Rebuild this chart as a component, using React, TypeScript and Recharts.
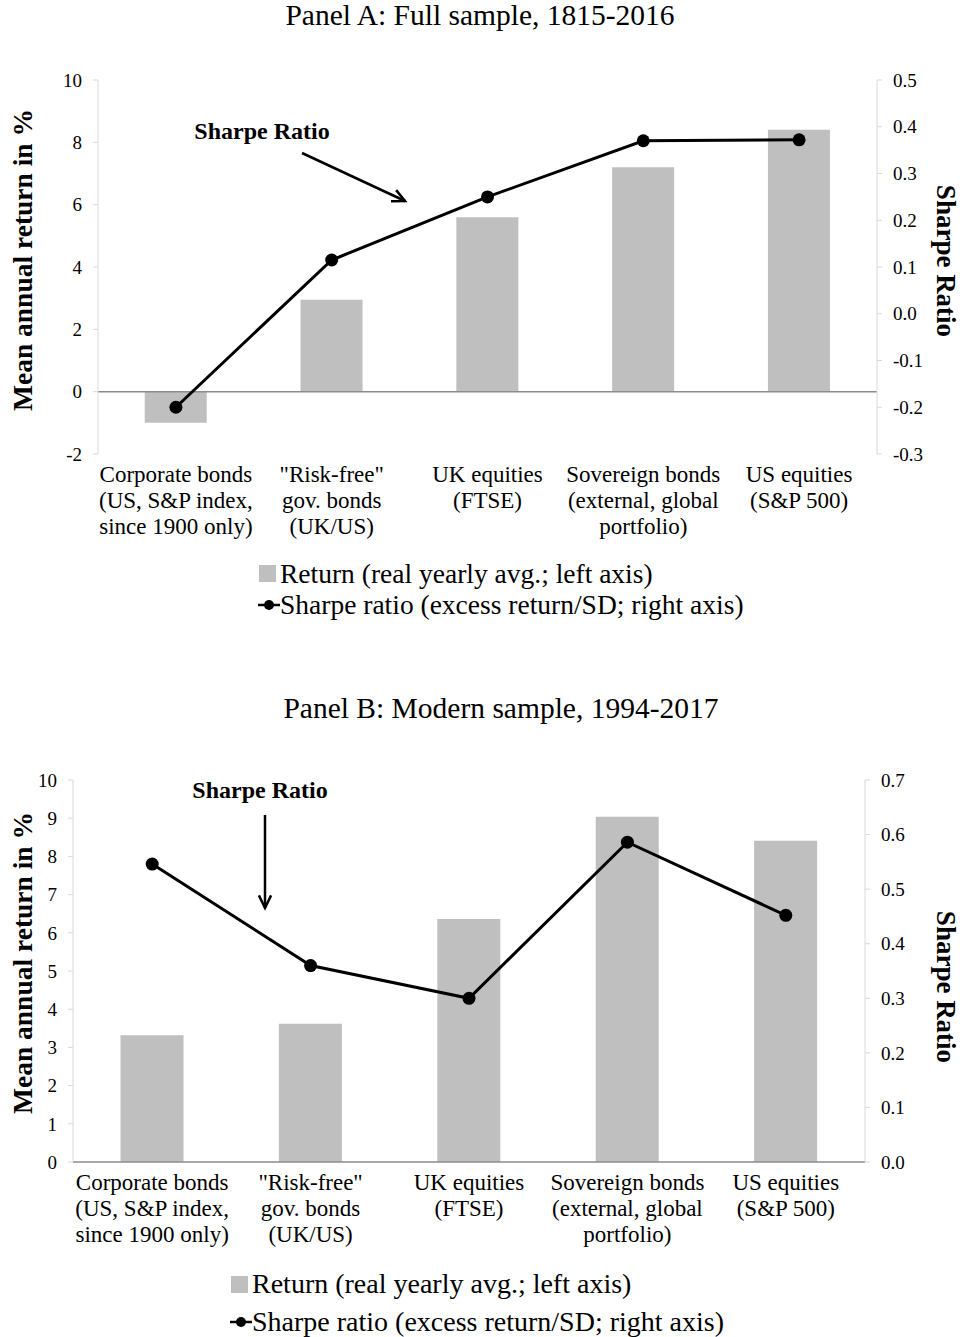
import {
    ComposedChart,
    XAxis,
    YAxis,
    Bar,
    Line,
    Legend,
    ReferenceLine,
    Customized
} from "recharts";

const FONT = '"Liberation Serif", "Times New Roman", Times, serif';

// categories and their wrapped tick labels
const categories = ["Corporate bonds", "\"Risk-free\"", "UK equities", "Sovereign bonds", "US equities"];
const tickLines = [
    ["Corporate bonds", "(US, S&P index,", "since 1900 only)"],
    ["\"Risk-free\"", "gov. bonds", "(UK/US)"],
    ["UK equities", "(FTSE)"],
    ["Sovereign bonds", "(external, global", "portfolio)"],
    ["US equities", "(S&P 500)"]
];

// Panel A: 1815-2016
const returnA = [-1.0, 2.95, 5.6, 7.2, 8.4];
const sharpeA = [-0.2, 0.115, 0.25, 0.37, 0.372];
const leftTicksA = [-2, 0, 2, 4, 6, 8, 10];
const rightTicksA = [-0.3, -0.2, -0.1, 0, 0.1, 0.2, 0.3, 0.4, 0.5];

// Panel B: 1994-2017
const returnB = [3.32, 3.62, 6.36, 9.04, 8.41];
const sharpeB = [0.546, 0.36, 0.3, 0.586, 0.452];
const leftTicksB = [0, 1, 2, 3, 4, 5, 6, 7, 8, 9, 10];
const rightTicksB = [0, 0.1, 0.2, 0.3, 0.4, 0.5, 0.6, 0.7];

const legendLabels = ["Return (real yearly avg.; left axis)", "Sharpe ratio (excess return/SD; right axis)"];

const buildRows = (ret: number[], sr: number[]) =>
    categories.map((name, i) => ({ name, ret: ret[i], sharpe: sr[i] }));

function CategoryTick(props: any) {
    const { x, y, payload } = props;
    const lines = tickLines[categories.indexOf(payload.value)] || [payload.value];
    return (
        <text x={x} y={y} textAnchor="middle" fontFamily={FONT} fontSize={23} fill="#000">
            {lines.map((l, i) => (
                <tspan key={i} x={x} dy={i === 0 ? 28 : 26}>{l}</tspan>
            ))}
        </text>
    );
}

function arrowHead(x1: number, y1: number, x2: number, y2: number, len = 14) {
    const a = Math.atan2(y2 - y1, x2 - x1);
    const p1 = [x2 - len * Math.cos(a - 0.45), y2 - len * Math.sin(a - 0.45)];
    const p2 = [x2 - len * Math.cos(a + 0.45), y2 - len * Math.sin(a + 0.45)];
    return `${p1[0]},${p1[1]} ${x2},${y2} ${p2[0]},${p2[1]}`;
}

type PanelProps = {
    title: string;
    titleX: number;
    titleY: number;
    height: number;
    top: number;
    plotTop: number;
    leftWidth: number;
    rightWidth: number;
    bottom: number;
    ret: number[];
    sharpe: number[];
    leftDomain: [number, number];
    leftTicks: number[];
    rightDomain: [number, number];
    rightTicks: number[];
    leftLabelY: number;
    rightLabelY: number;
    note: { x: number; y: number; arrow: [number, number, number, number] };
    legendTop: number;
    legendLeft: number;
    legendRow: number;
    legendSize: number;
};

function Panel(p: PanelProps) {
    const data = buildRows(p.ret, p.sharpe);
    const [ax1, ay1, ax2, ay2] = p.note.arrow;

    const legend = () => (
        <div style={{ fontFamily: FONT, fontSize: p.legendSize, color: "#000", paddingLeft: p.legendLeft, whiteSpace: "nowrap" }}>
            <div style={{ display: "flex", alignItems: "center", height: p.legendRow }}>
                <span style={{ width: 17, height: 17, background: "#bfbfbf", marginLeft: 1, marginRight: 4, flex: "none" }} />
                {legendLabels[0]}
            </div>
            <div style={{ display: "flex", alignItems: "center", height: p.legendRow }}>
                <svg width={22} height={14} style={{ flex: "none" }}>
                    <line x1={0} y1={7} x2={22} y2={7} stroke="#000" strokeWidth={2.5} />
                    <circle cx={11} cy={7} r={5} fill="#000" />
                </svg>
                {legendLabels[1]}
            </div>
        </div>
    );

    return (
        <div style={{ position: "absolute", left: 0, top: p.top }}>
            <ComposedChart
                width={960}
                height={p.height}
                data={data}
                barCategoryGap="30%"
                margin={{ top: p.plotTop, right: 0, bottom: p.bottom - 100, left: 0 }}
            >
                <XAxis
                    dataKey="name"
                    xAxisId={0}
                    axisLine={false}
                    tickLine={false}
                    tickSize={0}
                    tickMargin={0}
                    interval={0}
                    height={100}
                    tick={<CategoryTick />}
                />
                <YAxis
                    yAxisId="left"
                    orientation="left"
                    width={p.leftWidth}
                    domain={p.leftDomain}
                    ticks={p.leftTicks}
                    interval={0}
                    axisLine={{ stroke: "#d9d9d9" }}
                    tickLine={{ stroke: "#d9d9d9" }}
                    tickSize={5}
                    tickMargin={11}
                    tick={{ fontSize: 19, fill: "#000", fontFamily: FONT }}
                />
                <YAxis
                    yAxisId="right"
                    orientation="right"
                    width={p.rightWidth}
                    domain={p.rightDomain}
                    ticks={p.rightTicks}
                    interval={0}
                    tickFormatter={(v: number) => v.toFixed(1)}
                    axisLine={{ stroke: "#d9d9d9" }}
                    tickLine={{ stroke: "#d9d9d9" }}
                    tickSize={5}
                    tickMargin={11}
                    tick={{ fontSize: 19, fill: "#000", fontFamily: FONT }}
                />
                <ReferenceLine yAxisId="left" y={0} stroke="#8c8c8c" strokeWidth={1.5} />
                <Bar yAxisId="left" dataKey="ret" fill="#bfbfbf" isAnimationActive={false} />
                <Line
                    yAxisId="right"
                    dataKey="sharpe"
                    type="linear"
                    stroke="#000"
                    strokeWidth={3}
                    dot={{ r: 6.5, fill: "#000", stroke: "#000", strokeWidth: 0 }}
                    activeDot={false}
                    isAnimationActive={false}
                />
                <Legend
                    layout="horizontal"
                    verticalAlign="middle"
                    align="center"
                    content={legend}
                    wrapperStyle={{ top: p.legendTop, left: 0, width: 960 }}
                />
                <Customized
                    component={() => (
                        <g fontFamily={FONT} fill="#000">
                            <text x={p.titleX} y={p.titleY} textAnchor="middle" fontSize={29.5}>
                                {p.title}
                            </text>
                            <text
                                x={32}
                                y={p.leftLabelY}
                                transform={`rotate(-90, 32, ${p.leftLabelY})`}
                                textAnchor="middle"
                                fontSize={27.5}
                                fontWeight="bold"
                            >
                                Mean annual return in %
                            </text>
                            <text
                                x={937}
                                y={p.rightLabelY}
                                transform={`rotate(90, 937, ${p.rightLabelY})`}
                                textAnchor="middle"
                                fontSize={27}
                                fontWeight="bold"
                            >
                                Sharpe Ratio
                            </text>
                            <text x={p.note.x} y={p.note.y} textAnchor="middle" fontSize={24} fontWeight="bold">
                                Sharpe Ratio
                            </text>
                            <line x1={ax1} y1={ay1} x2={ax2} y2={ay2} stroke="#000" strokeWidth={2.5} />
                            <polyline points={arrowHead(ax1, ay1, ax2, ay2)} fill="none" stroke="#000" strokeWidth={2.5} />
                        </g>
                    )}
                />
            </ComposedChart>
        </div>
    );
}

export default function App() {
    return (
        <div style={{ position: "absolute", left: 0, top: 0, width: 960, height: 1337, background: "#fff" }}>
            <Panel
                title="Panel A: Full sample, 1815-2016"
                titleX={480}
                titleY={25}
                top={0}
                plotTop={80}
                height={650}
                leftWidth={98}
                rightWidth={83}
                bottom={196}
                ret={returnA}
                sharpe={sharpeA}
                leftDomain={[-2, 10]}
                leftTicks={leftTicksA}
                rightDomain={[-0.3, 0.5]}
                rightTicks={rightTicksA}
                leftLabelY={260}
                rightLabelY={261}
                note={{ x: 262, y: 139, arrow: [302, 153, 405, 201] }}
                legendTop={558}
                legendLeft={258}
                legendRow={31}
                legendSize={27.5}
            />
            <Panel
                title="Panel B: Modern sample, 1994-2017"
                titleX={501}
                titleY={28}
                top={690}
                plotTop={90}
                height={647}
                leftWidth={73}
                rightWidth={95}
                bottom={175}
                ret={returnB}
                sharpe={sharpeB}
                leftDomain={[0, 10]}
                leftTicks={leftTicksB}
                rightDomain={[0, 0.7]}
                rightTicks={rightTicksB}
                leftLabelY={273}
                rightLabelY={297}
                note={{ x: 260, y: 108, arrow: [265, 125, 265, 218] }}
                legendTop={575}
                legendLeft={230}
                legendRow={38}
                legendSize={28}
            />
        </div>
    );
}
